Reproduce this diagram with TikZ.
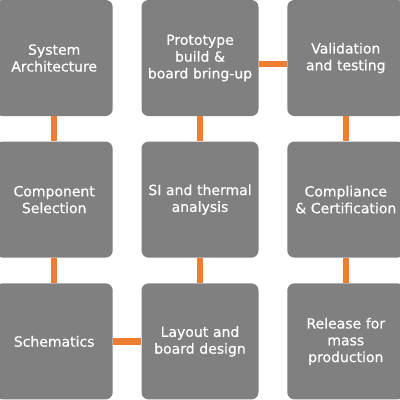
\documentclass[tikz,border=0pt]{standalone}
\usepackage{fontspec}
\setmainfont{DejaVu Sans}[FakeBold=0.6]
\definecolor{boxgray}{RGB}{128,128,128}
\definecolor{connorange}{RGB}{237,125,49}
\begin{document}
\begin{tikzpicture}[x=1pt,y=-1pt,
  stagebox/.style={fill=boxgray, rounded corners=7pt, minimum width=117pt, minimum height=116pt,
    inner sep=0pt, text=white, align=center, font=\fontsize{14}{16.8}\selectfont, text width=114pt},
  conn/.style={draw=connorange, line width=6.5pt}]
\useasboundingbox (0,0) rectangle (400,400);
% columns centres: 54.2, 200, 345.8 ; rows centres: 58, 199.6, 341.4
\node[stagebox] (sa) at (54.2,58) {System\\Architecture};
\node[stagebox] (pb) at (200,58) {Prototype\\build \&\\board bring-up};
\node[stagebox] (vt) at (345.8,58) {Validation\\and testing};
\node[stagebox] (cs) at (54.2,199.6) {Component\\Selection};
\node[stagebox] (si) at (200,199.6) {SI and thermal\\analysis};
\node[stagebox] (cc) at (345.8,199.6) {Compliance\\\& Certification};
\node[stagebox] (sc) at (54.2,341.4) {Schematics};
\node[stagebox] (lb) at (200,341.4) {Layout and\\board design};
\node[stagebox] (rm) at (345.8,341.4) {Release for\\mass\\production};
\draw[conn] (sa.south) -- (cs.north);
\draw[conn] (cs.south) -- (sc.north);
\draw[conn] (sc.east) -- (lb.west);
\draw[conn] (lb.north) -- (si.south);
\draw[conn] (si.north) -- (pb.south);
\draw[conn] ([yshift=-6pt]pb.east) -- ([yshift=-6pt]vt.west);
\draw[conn] (vt.south) -- (cc.north);
\draw[conn] (cc.south) -- (rm.north);
\end{tikzpicture}
\end{document}
